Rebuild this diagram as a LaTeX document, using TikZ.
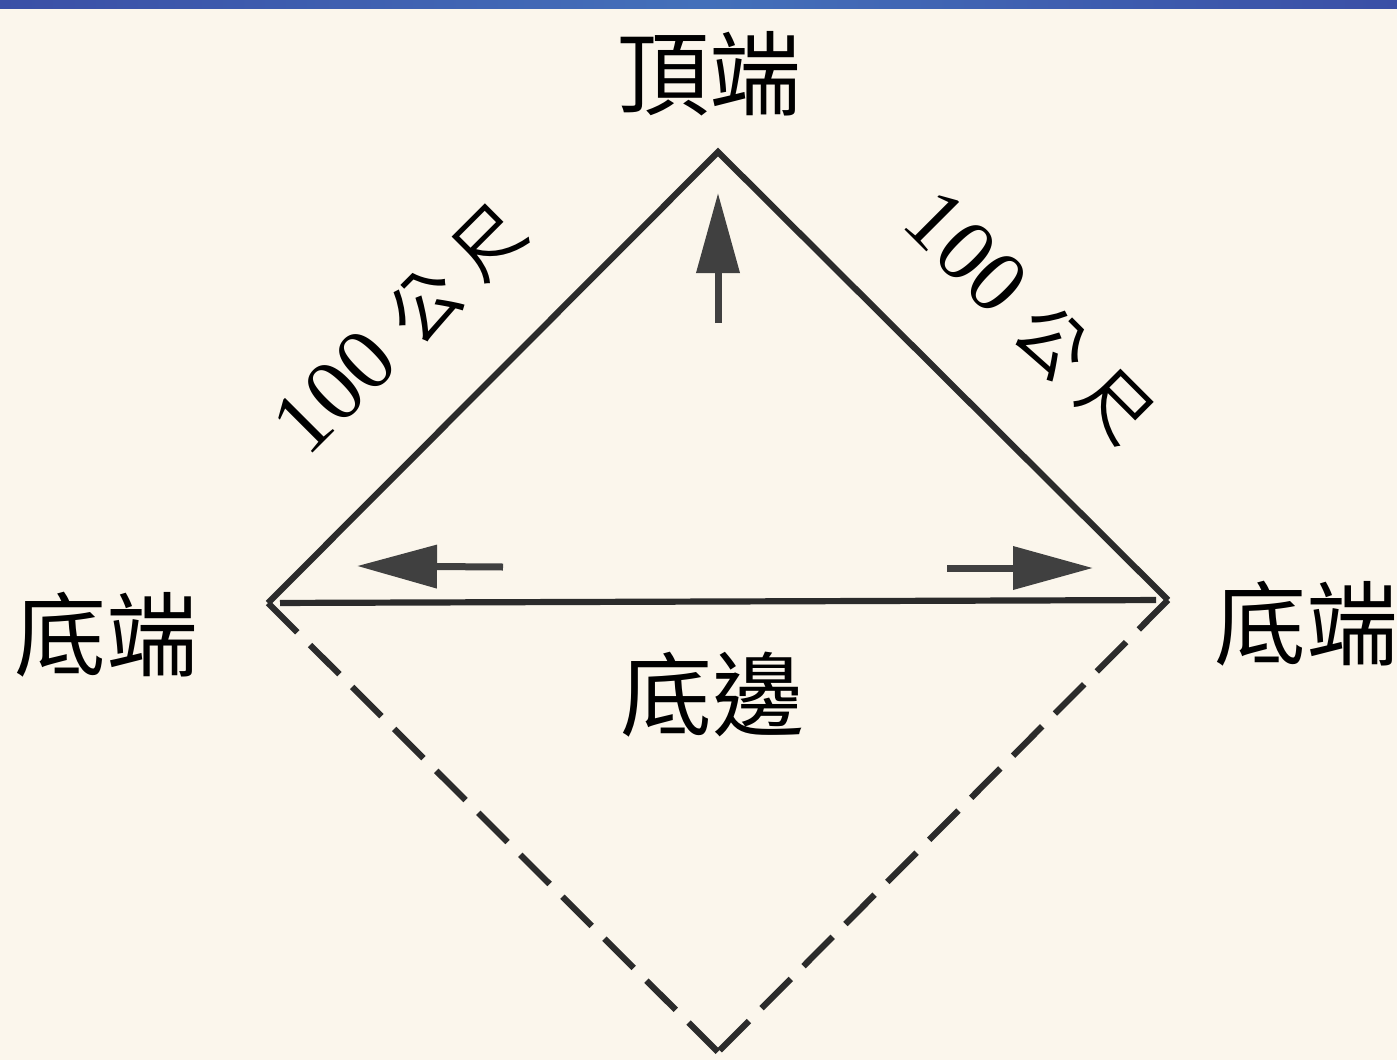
\documentclass[tikz,border=0pt]{standalone}
\usepackage{fontspec}
\newfontfamily\cjk{Noto Sans CJK TC}
\newfontfamily\numfont{Liberation Serif}
\usetikzlibrary{arrows.meta}
\definecolor{bg}{HTML}{FBF6EC}
\definecolor{barA}{HTML}{3A4FA6}
\definecolor{barB}{HTML}{4470BA}
\definecolor{ink}{HTML}{2B2B2B}
\definecolor{arrowink}{HTML}{404040}
\tikzset{
  edge/.style={draw=ink, line width=3.1pt, line join=miter},
  dashedge/.style={draw=ink, line width=3.1pt, dash pattern=on 20.7pt off 9pt},
  push/.style={draw=arrowink, line width=3.5pt, -{Triangle[length=40pt,width=21pt,fill=arrowink]}},
  bigtext/.style={font=\cjk\fontsize{46}{50}\selectfont, text=black, inner sep=0pt},
  lentext/.style={text=black, inner sep=0pt}
}
\newcommand{\lenlabel}{{\numfont\fontsize{44}{48}\selectfont 100}\hspace{12pt}{\cjk\fontsize{35}{38}\selectfont 公\hspace{10pt}尺}}
\begin{document}
\begin{tikzpicture}[x=0.5pt,y=-0.5pt]
\fill[bg] (0,0) rectangle (1397,1060);
\shade[left color=barA, right color=barA, middle color=barB] (0,0) rectangle (1397,8);
\useasboundingbox (0,0) rectangle (1397,1060);

% vertices
\coordinate (apex) at (718,152);
\coordinate (bl) at (268,603);
\coordinate (br) at (1168,600);
\coordinate (bot) at (718,1052);

% triangle
\draw[edge] (bl) -- (apex) -- (br);
\draw[edge, shorten <=6pt, shorten >=6pt] (bl) -- (br);
% dashed lower half
\draw[dashedge] (bl) -- (bot);
\draw[dashedge] (br) -- (bot);

% force arrows
\coordinate (upS) at (718,323);
\coordinate (upT) at (718,193);
\coordinate (lS) at (503,567);
\coordinate (lT) at (357,566);
\coordinate (rS) at (947,568);
\coordinate (rT) at (1093,568);
\draw[push] (upS) -- (upT);
\draw[push] (lS) -- (lT);
\draw[push] (rS) -- (rT);

% labels
\node[bigtext] (top) at (709,74) {頂端};
\node[bigtext] (leftend) at (106,635) {底端};
\node[bigtext] (rightend) at (1306,624) {底端};
\node[bigtext] (base) at (712,695) {底邊};
\node[lentext, rotate=45] (lenL) at (401,328) {\lenlabel};
\node[lentext, rotate=-45] (lenR) at (1030,318) {\lenlabel};
\end{tikzpicture}
\end{document}
